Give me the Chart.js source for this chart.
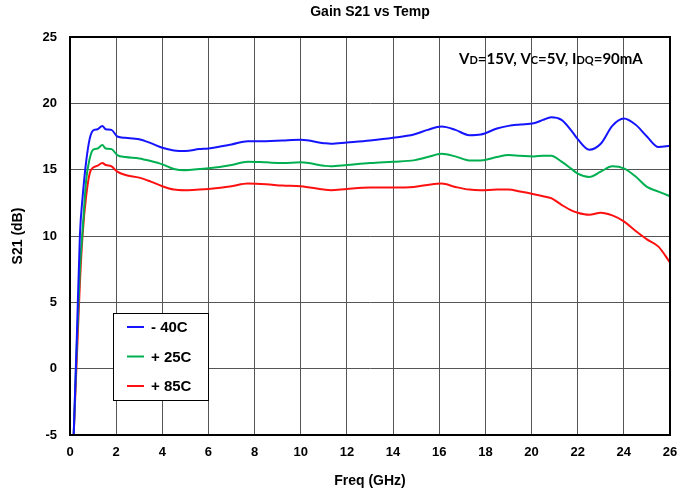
<!DOCTYPE html>
<html>
<head>
<meta charset="utf-8">
<title>Gain S21 vs Temp</title>
<script src="https://cdn.jsdelivr.net/npm/chart.js@4.4.1/dist/chart.umd.min.js"></script>
<style>
  html, body { margin: 0; padding: 0; background: #fff; }
  #wrap { width: 692px; height: 495px; }
</style>
</head>
<body>
<div id="wrap"><canvas id="c" width="692" height="495"></canvas></div>
<script>
// Frequency sweep (GHz), shared by all three temperature curves
const freqGHz = [0.16, 0.3, 0.43, 0.55, 0.7, 0.85, 1.0, 1.2, 1.4, 1.55, 1.8, 2.05, 2.4, 3.0, 3.5, 4.0, 4.5, 5.0, 5.6, 6.0,
  7.0, 7.7, 8.5, 9.2, 10, 11, 11.3, 12, 13, 14, 14.9, 15.5, 16.1, 16.7, 17.3, 17.8, 18.5, 19.0, 19.5, 20.1,
  20.5, 20.85, 21.3, 21.7, 22.0, 22.5, 23.0, 23.5, 24.0, 24.5, 25.0, 25.5, 26.0];

// S21 gain (dB) at each temperature
const gainMinus40 = [-5, 2.6, 10.1, 13.0, 15.6, 17.3, 17.95, 18.05, 18.3, 18.05, 18.0, 17.5, 17.4, 17.3, 17.0, 16.65, 16.45, 16.4, 16.55, 16.6,
  16.9, 17.15, 17.15, 17.2, 17.25, 17.0, 16.95, 17.05, 17.2, 17.4, 17.65, 18.0, 18.25, 18.0, 17.6, 17.65, 18.1, 18.3, 18.4, 18.5,
  18.75, 18.95, 18.75, 18.0, 17.3, 16.5, 16.95, 18.3, 18.85, 18.4, 17.5, 16.7, 16.8];
const gainPlus25 = [-5, 2.0, 7.5, 10.5, 14.2, 15.8, 16.5, 16.6, 16.85, 16.6, 16.55, 16.1, 15.95, 15.85, 15.65, 15.4, 15.05, 14.95, 15.05, 15.1,
  15.35, 15.6, 15.55, 15.5, 15.55, 15.3, 15.25, 15.35, 15.5, 15.6, 15.7, 15.95, 16.2, 16.0, 15.7, 15.7, 15.95, 16.1, 16.05, 16.0,
  16.05, 16.05, 15.6, 15.1, 14.7, 14.45, 14.85, 15.25, 15.1, 14.5, 13.7, 13.35, 13.0];
const gainPlus85 = [-5, 1.0, 6.5, 10.2, 13.0, 14.7, 15.15, 15.3, 15.5, 15.35, 15.25, 14.85, 14.6, 14.4, 14.1, 13.75, 13.5, 13.45, 13.5, 13.55,
  13.75, 13.95, 13.9, 13.8, 13.75, 13.5, 13.45, 13.55, 13.65, 13.65, 13.7, 13.85, 13.95, 13.7, 13.5, 13.45, 13.5, 13.5, 13.35, 13.15,
  13.0, 12.85, 12.35, 11.95, 11.75, 11.6, 11.75, 11.55, 11.1, 10.4, 9.75, 9.2, 8.0];

const seriesLabels = ['- 40C', '+ 25C', '+ 85C'];
const seriesColors = ['#1414ff', '#00b050', '#ff1010'];
const xTicks = [0, 2, 4, 6, 8, 10, 12, 14, 16, 18, 20, 22, 24, 26];
const yTicks = [-5, 0, 5, 10, 15, 20, 25];
const chartTitle = 'Gain S21 vs Temp';

// Bias condition, split into normal and small-caps runs
const biasRuns = [['V', 0], ['D', 1], ['=15V, V', 0], ['C', 1], ['=5V, I', 0], ['DQ', 1], ['=90mA', 0]];

const toPoints = ys => freqGHz.map((f, i) => ({ x: f, y: ys[i] }));
const gains = [gainMinus40, gainPlus25, gainPlus85];

const datasets = gains.map((g, i) => ({
  label: seriesLabels[i],
  data: toPoints(g),
  borderColor: seriesColors[i],
  backgroundColor: seriesColors[i],
  borderWidth: 2,
  pointRadius: 0,
  cubicInterpolationMode: 'monotone',
  fill: false
}));

const FONT = "'Liberation Sans', Arial, sans-serif";

// Outer frame of the plotting area
const framePlugin = {
  id: 'frame',
  afterDatasetsDraw(chart) {
    const { ctx, chartArea: a } = chart;
    ctx.save();
    ctx.strokeStyle = '#000';
    ctx.lineWidth = 2;
    ctx.strokeRect(a.left, a.top, a.right - a.left, a.bottom - a.top);
    ctx.restore();
  }
};

// Title centred over the plot, boxed legend inside the plot and the bias note at upper right
const notesPlugin = {
  id: 'notes',
  afterDraw(chart) {
    const { ctx, chartArea: a } = chart;
    ctx.save();
    // title
    ctx.fillStyle = '#000';
    ctx.font = 'bold 14px ' + FONT;
    ctx.textAlign = 'center';
    ctx.textBaseline = 'middle';
    ctx.fillText(chartTitle, (a.left + a.right) / 2, 12);
    // legend box
    const bx = 113, by = 313, bw = 95, bh = 87;
    ctx.fillStyle = '#fff';
    ctx.fillRect(bx, by, bw, bh);
    ctx.strokeStyle = '#000';
    ctx.lineWidth = 1;
    ctx.strokeRect(bx + 0.5, by + 0.5, bw, bh);
    chart.data.datasets.forEach((ds, i) => {
      const y = by + 14 + i * 29.5;
      ctx.strokeStyle = ds.borderColor;
      ctx.lineWidth = 2;
      ctx.beginPath();
      ctx.moveTo(127, y);
      ctx.lineTo(144, y);
      ctx.stroke();
      ctx.fillStyle = '#000';
      ctx.font = 'bold 15px ' + FONT;
      ctx.textAlign = 'left';
      ctx.textBaseline = 'middle';
      ctx.fillText(ds.label, 151, y + 1);
    });
    // bias note
    let x = 459;
    const base = 64;
    ctx.fillStyle = '#000';
    ctx.textBaseline = 'alphabetic';
    ctx.textAlign = 'left';
    biasRuns.forEach(([txt, small]) => {
      ctx.font = small ? "bold 11px Lato, sans-serif" : "bold 15px Lato, sans-serif";
      ctx.fillText(txt, x, base);
      x += ctx.measureText(txt).width;
    });
    ctx.restore();
  }
};

new Chart(document.getElementById('c'), {
  type: 'line',
  data: { datasets },
  plugins: [framePlugin, notesPlugin],
  options: {
    responsive: false,
    animation: false,
    layout: { padding: { left: 0, right: 22, top: 37, bottom: 0 } },
    plugins: {
      legend: { display: false },
      tooltip: { enabled: false },
      title: { display: false }
    },
    scales: {
      x: {
        type: 'linear',
        min: 0,
        max: 26,
        afterBuildTicks: s => { s.ticks = xTicks.map(v => ({ value: v })); },
        afterFit: s => { s.height = 60; },
        ticks: { color: '#000', font: { family: FONT, size: 13, weight: 'bold' }, padding: 10, maxRotation: 0 },
        grid: { color: '#555', lineWidth: 1, drawTicks: false },
        border: { color: '#000', width: 2 },
        title: {
          display: true,
          text: 'Freq (GHz)',
          color: '#000',
          font: { family: FONT, size: 14, weight: 'bold' },
          padding: { top: 8, bottom: 5 }
        }
      },
      y: {
        min: -5,
        max: 25,
        afterBuildTicks: s => { s.ticks = yTicks.map(v => ({ value: v })); },
        afterFit: s => { s.width = 70; },
        ticks: { color: '#000', font: { family: FONT, size: 13, weight: 'bold' }, padding: 13 },
        grid: { color: '#555', lineWidth: 1, drawTicks: false },
        border: { color: '#000', width: 2 },
        title: {
          display: true,
          text: 'S21 (dB)',
          color: '#000',
          font: { family: FONT, size: 14, weight: 'bold' },
          padding: { top: 10, bottom: 0 }
        }
      }
    }
  }
});
</script>
</body>
</html>
